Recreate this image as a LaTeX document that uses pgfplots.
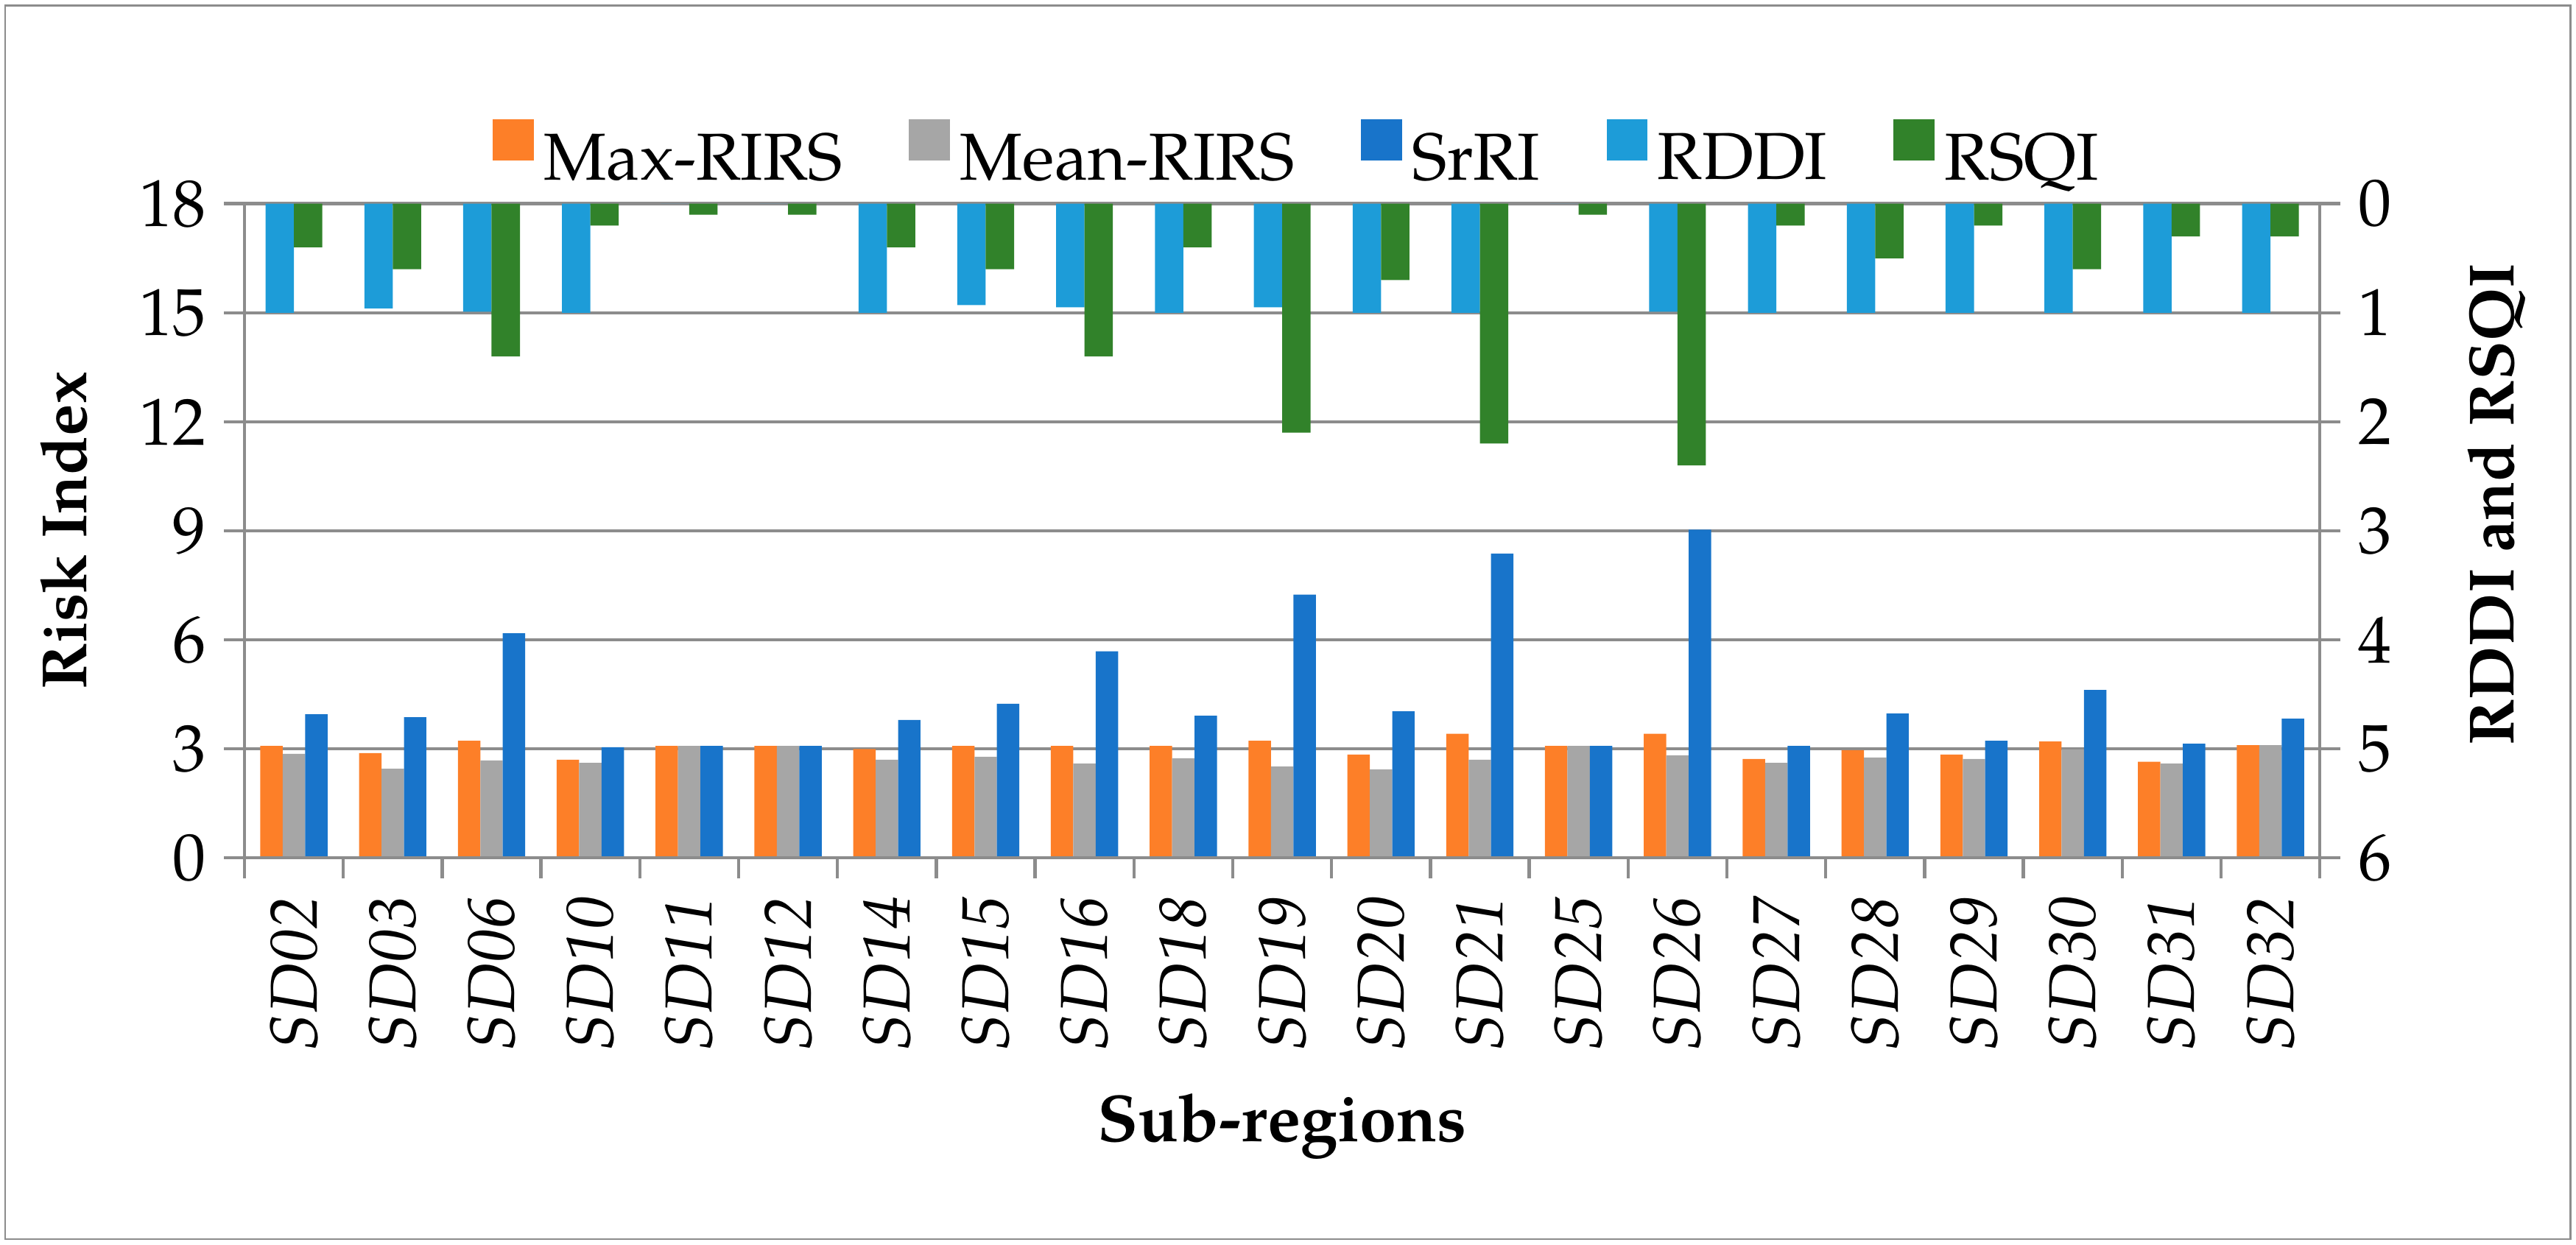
\documentclass[border=0pt]{standalone}
\usepackage{fontspec}
\setmainfont{TeX Gyre Pagella}
\usepackage{pgfplots}
\usepackage{pgfplotstable}
\pgfplotsset{compat=1.18}

\definecolor{cmax}{RGB}{253,127,40}
\definecolor{cmean}{RGB}{166,166,166}
\definecolor{csrri}{RGB}{24,116,202}
\definecolor{crddi}{RGB}{29,156,216}
\definecolor{crsqi}{RGB}{49,130,42}
\definecolor{axgray}{RGB}{140,140,140}

% idx, sub-region, Max-RIRS, Mean-RIRS, SrRI, RDDI, RSQI
\pgfplotstableread{
idx name max  mean srri rddi rsqi
0  SD02 3.08 2.86 3.95 1.00 0.4
1  SD03 2.88 2.45 3.87 0.96 0.6
2  SD06 3.22 2.68 6.18 0.99 1.4
3  SD10 2.70 2.61 3.04 1.00 0.2
4  SD11 3.08 3.08 3.08 0.00 0.1
5  SD12 3.08 3.08 3.08 0.00 0.1
6  SD14 2.99 2.70 3.79 1.00 0.4
7  SD15 3.08 2.78 4.24 0.93 0.6
8  SD16 3.08 2.59 5.68 0.95 1.4
9  SD18 3.08 2.74 3.91 1.00 0.4
10 SD19 3.22 2.51 7.24 0.95 2.1
11 SD20 2.84 2.43 4.03 1.00 0.7
12 SD21 3.41 2.70 8.37 1.00 2.2
13 SD25 3.08 3.08 3.08 0.00 0.1
14 SD26 3.41 2.82 9.03 0.99 2.4
15 SD27 2.72 2.61 3.08 1.00 0.2
16 SD28 2.96 2.76 3.97 1.00 0.5
17 SD29 2.84 2.72 3.22 1.00 0.2
18 SD30 3.20 2.98 4.62 1.00 0.6
19 SD31 2.64 2.59 3.14 1.00 0.3
20 SD32 3.10 3.10 3.83 1.00 0.3
}\risk

\pgfplotsset{
  common/.style={
    at={(47.84pt,75.65pt)}, anchor=south west, scale only axis,
    width=406.1pt, height=128pt,
    xmin=-0.5, xmax=20.5,
    ybar=0pt,
    axis line style={axgray, line width=0.65pt},
    tick style={axgray, line width=0.65pt},
    major tick length=4pt,
    tick align=outside,
    /pgf/number format/assume math mode=true,
    tick label style={font=\fontsize{13}{15}\selectfont},
  },
}

\begin{document}
\begin{tikzpicture}
\path (0pt,0pt) rectangle (504.06pt,243.53pt);
\draw[axgray, line width=0.4pt] (1pt,1pt) rectangle (503pt,242.5pt);

\begin{axis}[common,
  ymin=0, ymax=18, ytick={0,3,...,18},
  ymajorgrids, grid style={axgray, line width=0.65pt},
  axis x line*=bottom, axis y line*=left,
  xtick={0,...,20}, xticklabels from table={\risk}{name},
  xtick style={draw=none},
  xticklabel style={rotate=90, anchor=east, font=\fontsize{13}{15}\selectfont\itshape},
  bar width=0.227,
  ylabel={Risk Index},
  ylabel style={at={(axis description cs:-0.087,0.5)}, anchor=center, font=\fontsize{12.5}{15}\selectfont\bfseries},
  xlabel={Sub-regions},
  xlabel style={at={(axis description cs:0.5,-0.411)}, anchor=center, font=\fontsize{13}{15}\selectfont\bfseries},
]
\addplot[fill=cmax, draw=none] table[x=idx, y=max]{\risk};
\addplot[fill=cmean, draw=none] table[x=idx, y=mean]{\risk};
\addplot[fill=csrri, draw=none] table[x=idx, y=srri]{\risk};
\end{axis}

\begin{axis}[common,
  ymin=-6, ymax=0, ytick={-6,...,0}, yticklabels={6,5,4,3,2,1,0},
  axis y line*=right, axis x line*=bottom,
  xtick={-0.5,0.5,...,20.5}, xticklabels={},
  bar width=0.287,
  ylabel={RDDI and RSQI},
  ylabel style={at={(axis description cs:1.085,0.54)}, anchor=center, rotate=0, font=\fontsize{12.5}{15}\selectfont\bfseries},
  legend columns=-1,
  legend image code/.code={\fill[#1] (0pt,0pt) rectangle (8pt,8pt);},
  legend style={draw=none, fill=none, at={(0.509,1.069)}, anchor=center,
    font=\fontsize{13}{15}\selectfont,
    /tikz/every even column/.append style={column sep=11pt}},
]
\addlegendimage{fill=cmax, draw=none}
\addlegendentry{Max-RIRS}
\addlegendimage{fill=cmean, draw=none}
\addlegendentry{Mean-RIRS}
\addlegendimage{fill=csrri, draw=none}
\addlegendentry{SrRI}
\addplot[fill=crddi, draw=none] table[x=idx, y expr=-\thisrow{rddi}]{\risk};
\addlegendentry{RDDI}
\addplot[fill=crsqi, draw=none] table[x=idx, y expr=-\thisrow{rsqi}]{\risk};
\addlegendentry{RSQI}
\end{axis}
\end{tikzpicture}
\end{document}
